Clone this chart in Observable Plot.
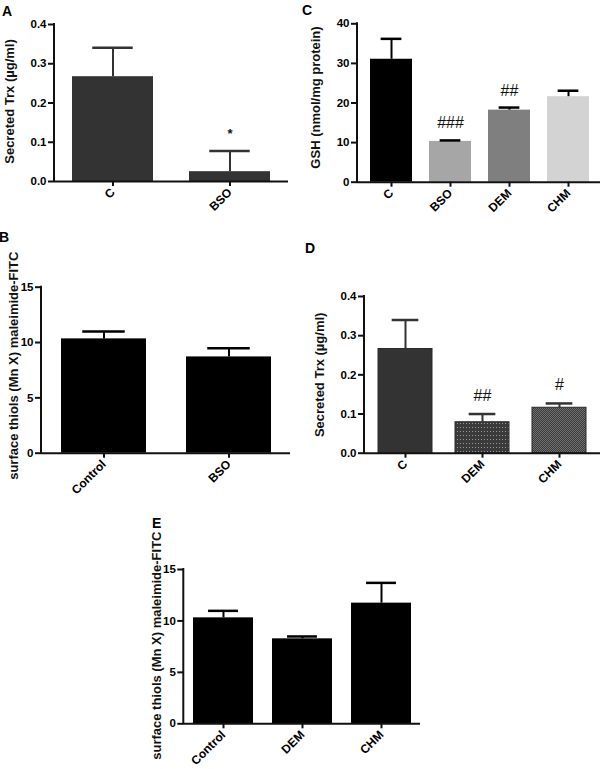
<!DOCTYPE html>
<html><head><meta charset="utf-8">
<script src="https://cdn.jsdelivr.net/npm/d3@7"></script>
<script src="https://cdn.jsdelivr.net/npm/@observablehq/plot@0.6"></script>
<style>
body{margin:0;background:#fff;}
#fig{position:relative;width:600px;height:769px;background:#fff;overflow:hidden;}
.panel{position:absolute;}
.letter{position:absolute;font:bold 14px "Liberation Sans",Arial,sans-serif;color:#000;line-height:1;}
</style></head><body><div id="fig"></div>
<script>
// ---- Panel A: Secreted Trx, C vs BSO
const aCats = ["C", "BSO"];
const aMean = [0.267, 0.025];
const aSem  = [0.074, 0.053];
const aSig  = ["", "*"];
const aTicks = [0, 0.1, 0.2, 0.3, 0.4];

// ---- Panel B: surface thiols, Control vs BSO
const bCats = ["Control", "BSO"];
const bMean = [10.33, 8.7];
const bSem  = [0.67, 0.79];
const bSig  = ["", ""];
const bTicks = [0, 5, 10, 15];

// ---- Panel C: GSH
const cCats = ["C", "BSO", "DEM", "CHM"];
const cMean = [31.05, 10.3, 18.2, 21.6];
const cSem  = [5.15, 0.25, 0.65, 1.5];
const cSig  = ["", "###", "##", ""];
const cTicks = [0, 10, 20, 30, 40];

// ---- Panel D: Secreted Trx, C / DEM / CHM
const dCats = ["C", "DEM", "CHM"];
const dMean = [0.266, 0.079, 0.116];
const dSem  = [0.074, 0.021, 0.011];
const dSig  = ["", "##", "#"];
const dTicks = [0, 0.1, 0.2, 0.3, 0.4];

// ---- Panel E: surface thiols, Control / DEM / CHM
const eCats = ["Control", "DEM", "CHM"];
const eMean = [10.3, 8.26, 11.73];
const eSem  = [0.68, 0.23, 1.97];
const eSig  = ["", "", ""];
const eTicks = [0, 5, 10, 15];

// styles (kept apart from the data)
const aFills = ["#333333", "#333333"];
const bFills = ["#000000", "#000000"];
const cFills = ["#000000", "#a6a6a6", "#7f7f7f", "#d3d3d3"];
const dFills = ["#333333", "url(#patDEM)", "url(#patCHM)"];
const eFills = ["#000000", "#000000", "#000000"];

const FONT = "Liberation Sans, Arial, Helvetica, sans-serif";
const fig = document.getElementById("fig");

function panel(cfg) {
  const {cats, mean, sem, sig, fills, ticks, fmt, yLabel, left, top, width, height,
         ml, mr, mt, mb, pi, po, errColor, barStroke, labelDx, labelDy, sigDy, sigSize, sigWeight} = cfg;
  const rows = cats.map((c, i) => ({cat: c, mean: mean[i], top: mean[i] + sem[i], sig: sig[i], fill: fills[i]}));
  const step = (width - ml - mr) / (cats.length - pi + 2 * po);
  const bw = step * (1 - pi);
  const capInset = bw / 4;
  const ymax = ticks[ticks.length - 1];
  const chart = Plot.plot({
    width, height,
    marginLeft: ml, marginRight: mr, marginTop: mt, marginBottom: mb,
    style: {fontFamily: FONT, fontWeight: "bold", fontSize: "11px", color: "#000", background: "none", overflow: "visible"},
    x: {domain: cats, paddingInner: pi, paddingOuter: po, label: null},
    y: {domain: [0, ymax], label: null},
    color: {type: "identity"},
    marks: [
      Plot.barY(rows, {x: "cat", y: "mean", fill: "fill", stroke: barStroke || "none", strokeWidth: 1}),
      Plot.ruleX(rows, {x: "cat", y1: "mean", y2: "top", stroke: errColor, strokeWidth: 2}),
      Plot.tickY(rows, {x: "cat", y: "top", stroke: errColor, strokeWidth: 2.5, insetLeft: capInset, insetRight: capInset}),
      Plot.ruleY([0], {stroke: "#111", strokeWidth: 2}),
      Plot.axisY({ticks, tickFormat: fmt, tickSize: 6, tickPadding: 2, stroke: "#111", strokeWidth: 2, label: null, fontSize: 11.5}),
      Plot.axisX({tickSize: 5, tickPadding: 4, tickRotate: -45, stroke: "#111", strokeWidth: 2, label: null, fontSize: 12}),
      Plot.text(rows, {x: "cat", y: "top", text: "sig", dy: sigDy, lineAnchor: "bottom", fontSize: sigSize, fontWeight: sigWeight, fill: "#111"}),
      Plot.text([yLabel], {text: d => d, frameAnchor: "left", textAnchor: "middle", lineAnchor: "middle", dx: labelDx, dy: labelDy, rotate: -90, fontSize: 13, fontWeight: "bold", fill: "#111"})
    ]
  });
  // vertical axis line drawn through the y scale
  const y = chart.scale("y");
  d3.select(chart).append("line")
    .attr("x1", ml).attr("x2", ml)
    .attr("y1", y.apply(ymax) - 1).attr("y2", y.apply(0) + 1)
    .attr("stroke", "#111").attr("stroke-width", 2);
  chart.classList.add("panel");
  chart.style.left = left + "px";
  chart.style.top = top + "px";
  fig.appendChild(chart);
  return chart;
}

const f1 = d3.format(".1f"), f0 = d3.format("d");

panel({cats: aCats, mean: aMean, sem: aSem, sig: aSig, fills: aFills, ticks: aTicks, fmt: f1,
  yLabel: "Secreted Trx (\u00b5g/ml)", left: 0, top: 0, width: 300, height: 230,
  ml: 54, mr: 12, mt: 24, mb: 49, pi: 0.31, po: 0.15, errColor: "#333", labelDx: -45, labelDy: -1.5,
  sigDy: -13, sigSize: 13, sigWeight: "bold"});

panel({cats: cCats, mean: cMean, sem: cSem, sig: cSig, fills: cFills, ticks: cTicks, fmt: f0,
  yLabel: "GSH (nmol/mg protein)", left: 300, top: 0, width: 300, height: 230,
  ml: 57, mr: -2, mt: 23.3, mb: 48.3, pi: 0.29, po: 0.19, errColor: "#000", labelDx: -42, labelDy: -5.5,
  sigDy: -12, sigSize: 16, sigWeight: "normal"});

panel({cats: bCats, mean: bMean, sem: bSem, sig: bSig, fills: bFills, ticks: bTicks, fmt: f0,
  yLabel: "surface thiols (Mn X) maleimide-FITC", left: 0, top: 230, width: 300, height: 290,
  ml: 41, mr: 10, mt: 56.7, mb: 67.3, pi: 0.32, po: 0.156, errColor: "#000", labelDx: -28, labelDy: -4.5,
  sigDy: -12, sigSize: 16, sigWeight: "normal"});

const dChart = panel({cats: dCats, mean: dMean, sem: dSem, sig: dSig, fills: dFills, ticks: dTicks, fmt: f1,
  yLabel: "Secreted Trx (\u00b5g/ml)", left: 300, top: 250, width: 300, height: 270,
  ml: 64, mr: 0, mt: 46, mb: 67.3, pi: 0.296, po: 0.168, errColor: "#333", barStroke: "#2a2a2a", labelDx: -45, labelDy: 0,
  sigDy: -13, sigSize: 16, sigWeight: "normal"});

panel({cats: eCats, mean: eMean, sem: eSem, sig: eSig, fills: eFills, ticks: eTicks, fmt: f0,
  yLabel: "surface thiols (Mn X) maleimide-FITC", left: 100, top: 500, width: 330, height: 269,
  ml: 83.3, mr: 10, mt: 69, mb: 45.7, pi: 0.24, po: 0.114, errColor: "#000", labelDx: -27, labelDy: -1,
  sigDy: -12, sigSize: 16, sigWeight: "normal"});

// fill patterns for the D bars
const defs = d3.select(dChart).insert("defs", ":first-child");
const p1 = defs.append("pattern").attr("id", "patDEM").attr("patternUnits", "userSpaceOnUse").attr("width", 3).attr("height", 4);
p1.append("rect").attr("width", 3).attr("height", 4).attr("fill", "#3a3a3a");
p1.append("rect").attr("x", 1).attr("y", 1).attr("width", 1).attr("height", 1).attr("fill", "#9a9a9a");
const p2 = defs.append("pattern").attr("id", "patCHM").attr("patternUnits", "userSpaceOnUse").attr("width", 2).attr("height", 2);
p2.append("rect").attr("width", 2).attr("height", 2).attr("fill", "#3c3c3c");
p2.append("rect").attr("x", 0).attr("y", 0).attr("width", 1).attr("height", 1).attr("fill", "#6e6e6e");
p2.append("rect").attr("x", 1).attr("y", 1).attr("width", 1).attr("height", 1).attr("fill", "#6e6e6e");

// panel letters
[["A", 2, 4.2], ["C", 302, 3.2], ["B", -1, 229.9], ["D", 305, 241], ["E", 152, 516]].forEach(([t, x, yy]) => {
  const d = document.createElement("div");
  d.className = "letter";
  d.textContent = t;
  d.style.left = x + "px";
  d.style.top = yy + "px";
  fig.appendChild(d);
});
</script></body></html>
